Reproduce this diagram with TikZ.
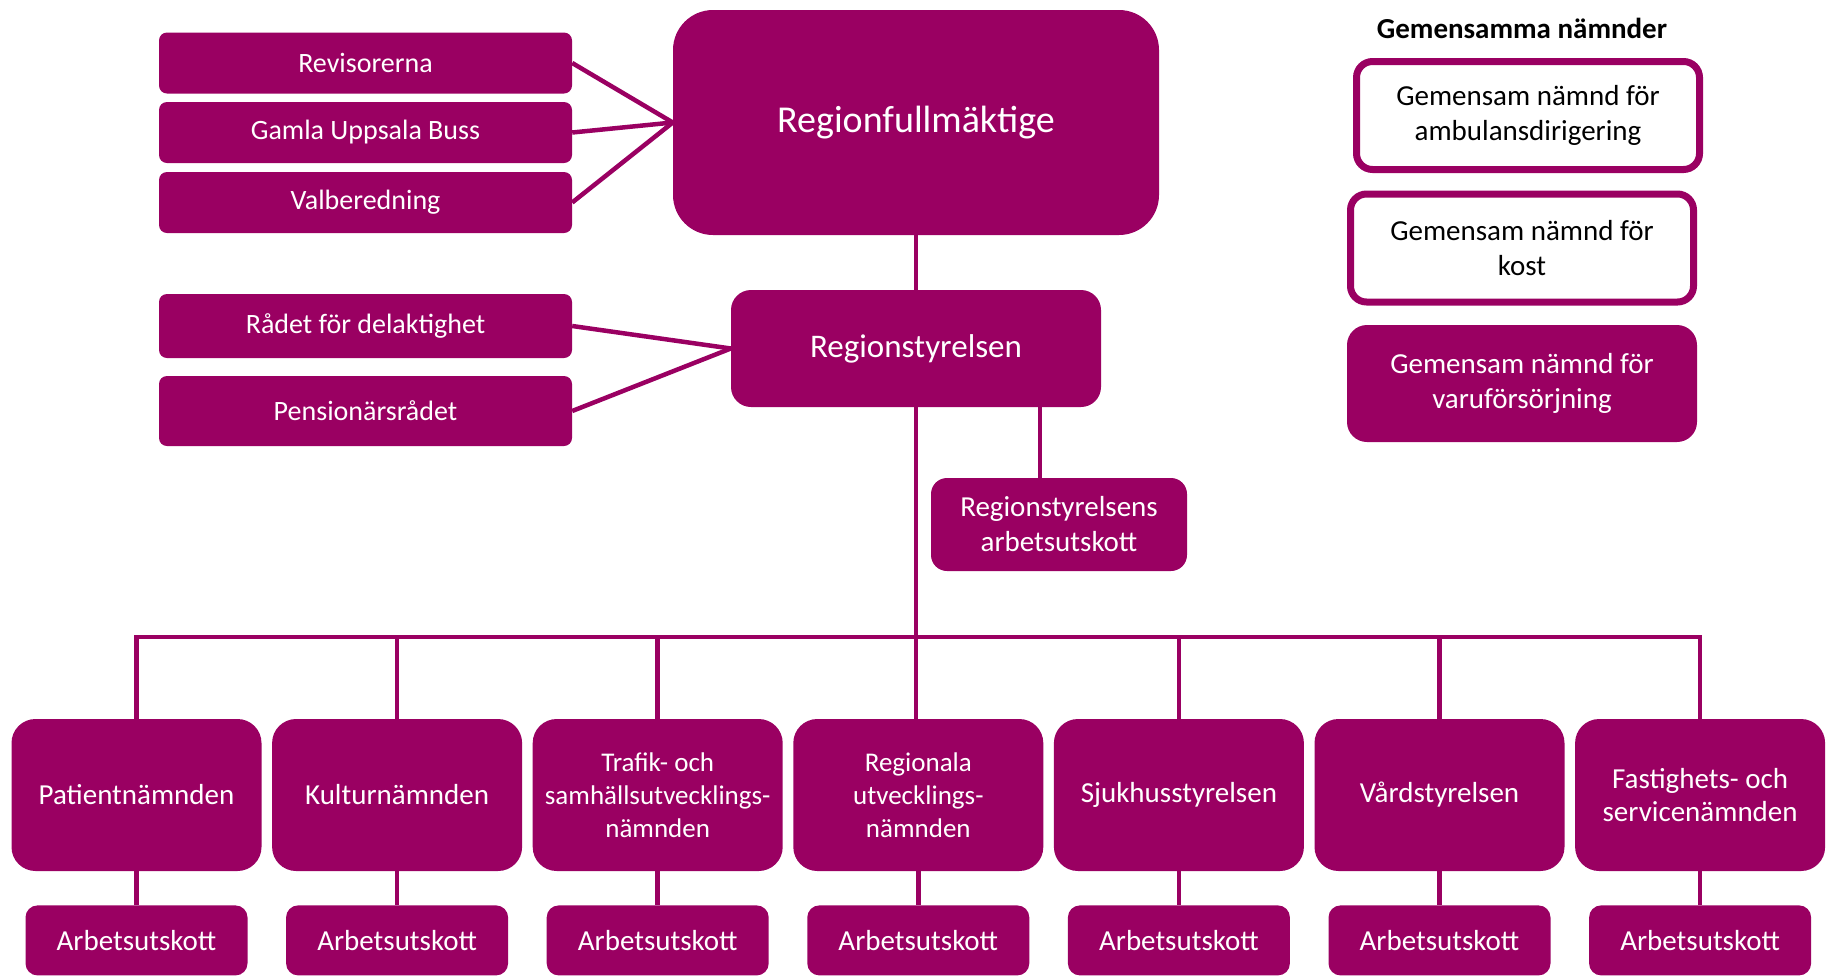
\documentclass[tikz,border=0pt]{standalone}
\usepackage{fontspec}
\setmainfont{Carlito}
\usetikzlibrary{positioning, calc}
\definecolor{regionlila}{RGB}{154,0,98}

\begin{document}
\begin{tikzpicture}[x=1pt, y=-1pt,
    box/.style={fill=regionlila, text=white, align=center, inner sep=0pt,
      font=\fontsize{29}{35}\selectfont},
    sidebox/.style={box, minimum width=413pt, minimum height=61pt,
      rounded corners=8pt, font=\fontsize{28}{34}\selectfont},
    namnd/.style={box, minimum width=250pt, minimum height=152pt,
      rounded corners=24pt},
    utskott/.style={box, minimum width=222pt, minimum height=70pt,
      rounded corners=12pt},
    gembox/.style={box, draw=regionlila, line width=7pt, fill=white,
      text=black, minimum width=343pt, minimum height=108pt,
      rounded corners=16pt},
    link/.style={draw=regionlila, line width=4.5pt}]

    \useasboundingbox (0,0) rectangle (1826,978);

    % fullmaktige och styrelse
    \node[box, minimum width=486pt, minimum height=225pt,
      rounded corners=40pt, font=\fontsize{38}{46}\selectfont]
      (fullm) at (916,122.5) {Regionfullmäktige};
    \node[box, minimum width=370pt, minimum height=117pt,
      rounded corners=20pt, font=\fontsize{33}{40}\selectfont]
      (styr) at (916,348.5) {Regionstyrelsen};
    \node[box, minimum width=256pt, minimum height=93pt,
      rounded corners=16pt]
      (styrau) at (1059,524.5) {Regionstyrelsens\\arbetsutskott};

    \node[sidebox] (rev) at (365.5,63) {Revisorerna};
    \node[sidebox] (buss) at (365.5,132.5) {Gamla Uppsala Buss};
    \node[sidebox] (valb) at (365.5,202.5) {Valberedning};
    \node[sidebox, minimum height=64pt] (delakt) at (365.5,326)
      {Rådet för delaktighet};
    \node[sidebox, minimum height=70pt] (pension) at (365.5,411)
      {Pensionärsrådet};

    \foreach \s in {rev,buss,valb}{
      \draw[link] (\s.east) -- (fullm.west);
    }
    \foreach \s in {delakt,pension}{
      \draw[link] (\s.east) -- (styr.west);
    }

    \draw[link] (fullm.south) -- (styr.north);
    \draw[link] ([xshift=-19pt]styrau.north) --
      ([xshift=-19pt]styrau.north |- styr.south);

    % gemensamma namnder
    \node[font=\bfseries\fontsize{29}{35}\selectfont]
      (gemrubrik) at (1522,28) {Gemensamma nämnder};
    \node[gembox] (gem1) at (1528,115.5)
      {Gemensam nämnd för\\ambulansdirigering};
    \node[gembox] (gem2) at (1522,248)
      {Gemensam nämnd för\\kost};
    \node[box, minimum width=350pt, minimum height=117pt,
      rounded corners=20pt]
      (gem3) at (1522,383.5) {Gemensam nämnd för\\varuförsörjning};

    % namnder med arbetsutskott
    \foreach \namn/\fs [count=\i] in {
      Patientnämnden/29,
      Kulturnämnden/29,
      {Trafik- och\\samhällsutvecklings-\\nämnden}/27,
      {Regionala\\utvecklings-\\nämnden}/27,
      Sjukhusstyrelsen/29,
      Vårdstyrelsen/29,
      {Fastighets- och\\servicenämnden}/29}{
      \node[namnd, font=\fontsize{\fs}{33}\selectfont]
        (k\i) at ({136.5+260.6*(\i-1)},795) {\namn};
      \node[utskott, below=34pt of k\i] (au\i) {Arbetsutskott};
      \draw[link] (k\i.south) -- (au\i.north);
    }

    \coordinate (skena) at (0,637);
    \draw[link] (k1.north) |- (skena -| k7.north) -- (k7.north);
    \foreach \i in {2,3,5,6}{
      \draw[link] (k\i.north) -- (k\i.north |- skena);
    }
    \draw[link] (styr.south) -- (styr.south |- k4.north);
\end{tikzpicture}
\end{document}
